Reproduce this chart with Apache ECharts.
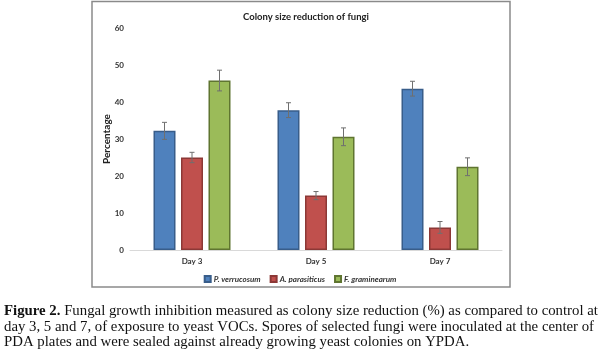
<!DOCTYPE html>
<html>
<head>
<meta charset="utf-8">
<script src="https://cdn.jsdelivr.net/npm/echarts@6/dist/echarts.min.js"></script>
<style>html,body{margin:0;padding:0;background:#fff;}#c{width:600px;height:360px;}</style>
</head>
<body>
<div id="c"></div>
<script>
const categories = ['Day 3', 'Day 5', 'Day 7'];
const seriesNames = ['P. verrucosum', 'A. parasiticus', 'F. graminearum'];
const pVerrucosum = [32.2, 37.8, 43.6];
const pVerrucosumErr = [2.3, 2.0, 2.0];
const aParasiticus = [25.0, 14.7, 6.1];
const aParasiticusErr = [1.4, 1.1, 1.6];
const fGraminearum = [45.8, 30.6, 22.5];
const fGraminearumErr = [2.8, 2.4, 2.4];
const yTicks = [0, 10, 20, 30, 40, 50, 60];
const chartTitle = 'Colony size reduction of fungi';
const yAxisName = 'Percentage';
const captionLines = [
  ['Figure 2.', ' Fungal growth inhibition measured as colony size reduction (%) as compared to control at'],
  ['', 'day 3, 5 and 7, of exposure to yeast VOCs. Spores of selected fungi were inoculated at the center of'],
  ['', 'PDA plates and were sealed against already growing yeast colonies on YPDA.']
];

const fills = ['#4F81BD', '#C0504D', '#9BBB59'];
const borders = ['#385D8A', '#8C3836', '#5F7530'];
const values = [pVerrucosum, aParasiticus, fGraminearum];
const errs = [pVerrucosumErr, aParasiticusErr, fGraminearumErr];
const BAR_W = 22, BAR_GAP = 0.25;
const font = 'Lato, "Open Sans", sans-serif';

const chart = echarts.init(document.getElementById('c'), null, {renderer: 'canvas'});

const series = [];
values.forEach((v, i) => {
  series.push({
    name: seriesNames[i], type: 'bar', data: v, barWidth: BAR_W, barGap: (BAR_GAP * 100) + '%',
    itemStyle: {color: fills[i], borderColor: borders[i], borderWidth: 1.5},
    z: 2
  });
});
values.forEach((v, i) => {
  const offset = (i - 1) * BAR_W * (1 + BAR_GAP);
  series.push({
    type: 'custom', silent: true, z: 5,
    data: v.map((val, k) => [k, val - errs[i][k], val + errs[i][k]]),
    renderItem: function (params, api) {
      const lo = api.coord([api.value(0), api.value(1)]);
      const hi = api.coord([api.value(0), api.value(2)]);
      const x = lo[0] + offset;
      const cap = 2.5;
      const st = {stroke: '#6f6f6f', lineWidth: 1};
      return {type: 'group', children: [
        {type: 'line', shape: {x1: x, y1: lo[1], x2: x, y2: hi[1]}, style: st},
        {type: 'line', shape: {x1: x - cap, y1: lo[1], x2: x + cap, y2: lo[1]}, style: st},
        {type: 'line', shape: {x1: x - cap, y1: hi[1], x2: x + cap, y2: hi[1]}, style: st}
      ]};
    }
  });
});

const graphics = [
  {type: 'rect', shape: {x: 92, y: 1.5, width: 418, height: 285.5}, style: {fill: 'none', stroke: '#8a8a8a', lineWidth: 1.5}, silent: true, z: 0}
];
captionLines.forEach((ln, i) => {
  graphics.push({
    type: 'text', left: 4, top: 304 + i * 15.5, silent: true,
    style: {
      text: (ln[0] ? '{b|' + ln[0] + '}' : '') + ln[1],
      fontFamily: '"Liberation Serif", serif', fontSize: 14.8, fill: '#111',
      rich: {b: {fontWeight: 'bold', fontFamily: '"Liberation Serif", serif', fontSize: 14.8, fill: '#111'}}
    }
  });
});

chart.setOption({
  animation: false,
  backgroundColor: '#fff',
  title: {text: chartTitle, left: 301, textAlign: 'center', top: 7,
    textStyle: {fontFamily: font, fontWeight: 'bold', fontSize: 9.5, color: '#222'}},
  legend: {
    data: seriesNames, top: 270, left: 'center', itemWidth: 6, itemHeight: 6, itemGap: 9,
    icon: 'rect',
    textStyle: {fontFamily: font, fontStyle: 'italic', fontWeight: 'bold', fontSize: 8, color: '#333', padding: [0, 0, 0, -2]}
  },
  grid: {left: 130, right: 98, top: 28, bottom: 110, containLabel: false},
  xAxis: {
    type: 'category', data: categories,
    axisLine: {lineStyle: {color: '#d9d9d9', width: 1}},
    axisTick: {show: false},
    axisLabel: {fontFamily: font, fontWeight: 'bold', fontSize: 8, color: '#333', margin: 7}
  },
  yAxis: {
    type: 'value', min: yTicks[0], max: yTicks[yTicks.length - 1], interval: yTicks[1] - yTicks[0],
    name: yAxisName, nameLocation: 'middle', nameGap: 18, nameRotate: 90, nameMoveOverlap: false,
    nameTextStyle: {fontFamily: font, fontWeight: 'bold', fontSize: 10, color: '#222'},
    axisLine: {show: false}, axisTick: {show: false}, splitLine: {show: false},
    axisLabel: {fontFamily: font, fontWeight: 'bold', fontSize: 8, color: '#333', margin: 6}
  },
  series: series,
  graphic: graphics
});
</script>
</body>
</html>
